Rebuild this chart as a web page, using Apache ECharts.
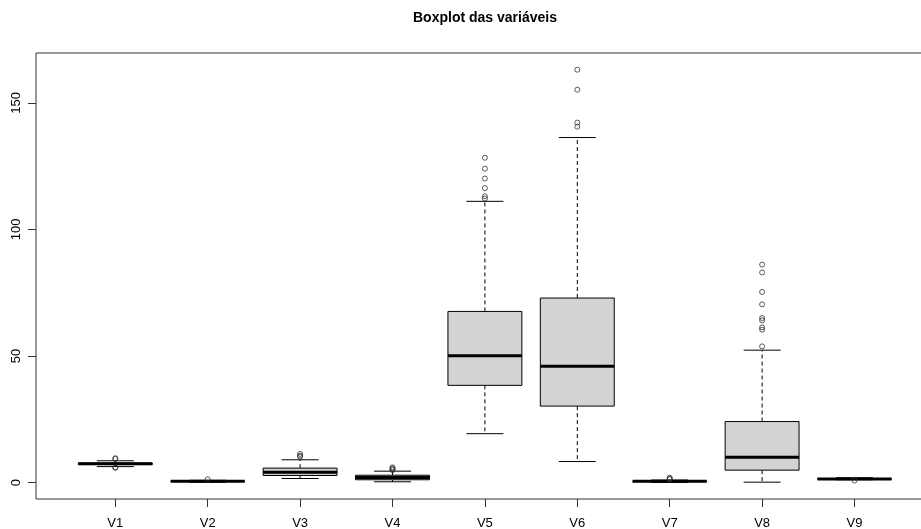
<!DOCTYPE html>
<html>
<head>
<meta charset="utf-8">
<script src="https://cdn.jsdelivr.net/npm/echarts@6/dist/echarts.min.js"></script>
<style>
html,body{margin:0;padding:0;background:#fff;}
#chart{width:921px;height:529px;}
</style>
</head>
<body>
<div id="chart"></div>
<script>
// Data
var categories = ['V1','V2','V3','V4','V5','V6','V7','V8','V9'];
// [lower whisker, Q1, median, Q3, upper whisker]
var boxStats = [
  [6.3, 7.1, 7.4, 7.7, 8.6],
  [0.1, 0.4, 0.5, 0.6, 0.9],
  [1.6, 2.8, 4.1, 5.7, 9.0],
  [0.3, 1.1, 2.0, 2.9, 4.5],
  [19.3, 38.4, 50.1, 67.6, 111.1],
  [8.3, 30.2, 45.9, 72.9, 136.3],
  [0.05, 0.35, 0.5, 0.65, 1.0],
  [0.15, 4.9, 10.0, 24.1, 52.3],
  [1.1, 1.3, 1.45, 1.55, 1.9]
];
var outliers = [
  [9.6, 9.3, 6.0, 5.8],
  [1.3],
  [11.3, 10.6, 10.2],
  [6.0, 5.6, 5.2, 4.9],
  [128.3, 124.0, 120.1, 116.3, 113.1, 112.2],
  [163.1, 155.2, 142.2, 140.6],
  [1.9, 1.5, 1.3],
  [86.1, 83.0, 75.3, 70.4, 65.0, 64.1, 61.3, 60.4, 53.8],
  [0.8]
];
var yTicks = [0, 50, 100, 150];
var yMin = -6.5, yMax = 169.7;

var boxData = boxStats.map(function (s, i) { return [i].concat(s); });
var outlierData = [];
outliers.forEach(function (arr, i) {
  arr.forEach(function (v) { outlierData.push([i, v]); });
});

var chart = echarts.init(document.getElementById('chart'), null, {renderer: 'canvas'});
var font = '"Liberation Sans", Arial, sans-serif';

function renderBox(params, api) {
  var idx = api.value(0);
  var lo = api.coord([idx, api.value(1)]);
  var q1 = api.coord([idx, api.value(2)]);
  var med = api.coord([idx, api.value(3)]);
  var q3 = api.coord([idx, api.value(4)]);
  var hi = api.coord([idx, api.value(5)]);
  var band = api.size([1, 0])[0];
  var bw = band * 0.8, sw = bw / 2;
  var cx = q1[0];
  var lineStyle = {stroke: '#000', lineWidth: 1, fill: null};
  var dashStyle = {stroke: '#000', lineWidth: 1, lineDash: [4, 3], fill: null};
  return {
    type: 'group',
    children: [
      {type: 'line', shape: {x1: cx, y1: q3[1], x2: cx, y2: hi[1]}, style: dashStyle},
      {type: 'line', shape: {x1: cx, y1: q1[1], x2: cx, y2: lo[1]}, style: dashStyle},
      {type: 'line', shape: {x1: cx - sw / 2, y1: hi[1], x2: cx + sw / 2, y2: hi[1]}, style: lineStyle},
      {type: 'line', shape: {x1: cx - sw / 2, y1: lo[1], x2: cx + sw / 2, y2: lo[1]}, style: lineStyle},
      {type: 'rect', shape: {x: cx - bw / 2, y: q3[1], width: bw, height: q1[1] - q3[1]},
        style: {fill: '#d3d3d3', stroke: '#000', lineWidth: 1}},
      {type: 'line', shape: {x1: cx - bw / 2, y1: med[1], x2: cx + bw / 2, y2: med[1]},
        style: {stroke: '#000', lineWidth: 3}}
    ]
  };
}

chart.setOption({
  animation: false,
  backgroundColor: '#fff',
  title: {
    text: 'Boxplot das variáveis',
    left: 408, top: 6,
    textStyle: {fontFamily: font, fontSize: 14, fontWeight: 'bold', color: '#000'}
  },
  grid: [
    {left: 36, top: 53, width: 898, height: 446, show: true, borderColor: '#333', borderWidth: 1,
      backgroundColor: 'transparent', containLabel: false, outerBoundsMode: 'none'},
    {left: 69.1, top: 53, width: 831.6, height: 446, containLabel: false, outerBoundsMode: 'none'}
  ],
  xAxis: [
    {gridIndex: 0, type: 'value', min: 0, max: 1, show: false},
    {gridIndex: 1, type: 'category', data: categories, boundaryGap: true, position: 'bottom',
      axisLine: {show: false, onZero: false},
      axisTick: {show: true, alignWithLabel: true, length: 8, lineStyle: {color: '#333'}},
      axisLabel: {fontFamily: font, fontSize: 13, color: '#000', margin: 18},
      splitLine: {show: false}}
  ],
  yAxis: [
    {gridIndex: 0, type: 'value', min: yMin, max: yMax,
      axisLine: {show: false, onZero: false},
      axisTick: {show: true, length: 8, customValues: yTicks, lineStyle: {color: '#333'}},
      axisLabel: {fontFamily: font, fontSize: 13, color: '#000', rotate: 90, margin: 13, customValues: yTicks},
      splitLine: {show: false}},
    {gridIndex: 1, type: 'value', min: yMin, max: yMax, show: false, splitLine: {show: false}}
  ],
  series: [
    {type: 'custom', xAxisIndex: 1, yAxisIndex: 1, renderItem: renderBox, data: boxData,
      encode: {x: 0, y: [1, 2, 3, 4, 5]}},
    {type: 'scatter', xAxisIndex: 1, yAxisIndex: 1, data: outlierData,
      symbol: 'circle', symbolSize: 5,
      itemStyle: {color: 'transparent', borderColor: '#333', borderWidth: 1}}
  ]
});
</script>
</body>
</html>
